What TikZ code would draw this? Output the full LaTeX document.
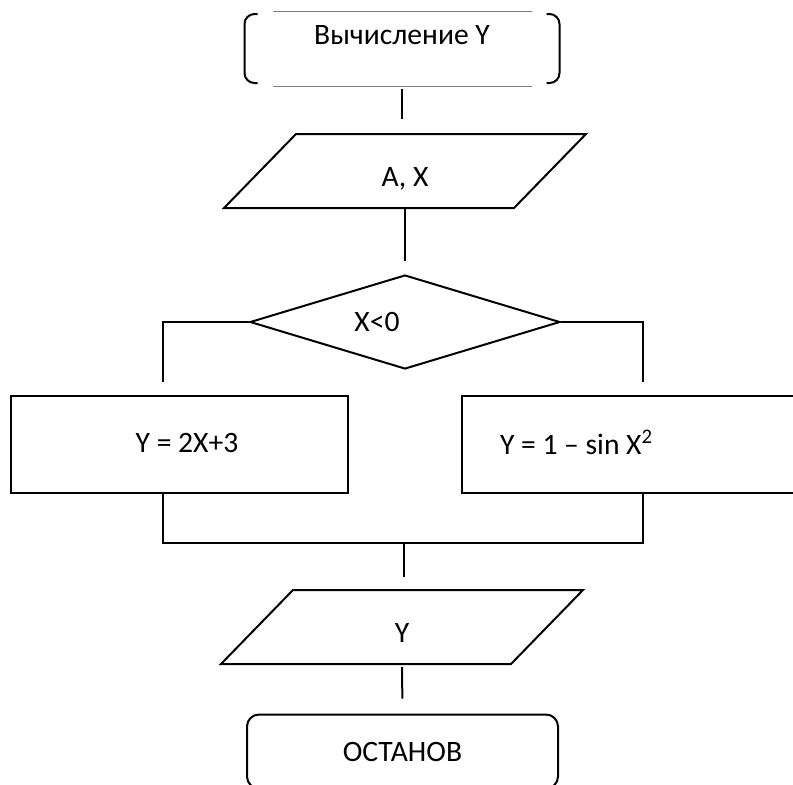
\documentclass[tikz,border=0pt]{standalone}
\usepackage{fontspec}
\setmainfont{Carlito}
\usetikzlibrary{shapes.geometric}

\begin{document}
\begin{tikzpicture}[x=0.5pt,y=-0.5pt,line width=1pt]
	\tikzstyle{every node}=[font=\fontsize{14.8}{18}\selectfont,inner sep=0pt];
	\tikzstyle{io}=[rectangle,minimum width=144pt,minimum height=36pt,text height=17.4pt,text depth=2pt];
	\tikzstyle{act}=[draw,rectangle,minimum height=48.5pt];
	\tikzstyle{decision}=[draw,diamond,shape aspect=3.3,minimum width=155pt,minimum height=47pt];
	\tikzstyle{link}=[shorten >=7pt];

	\useasboundingbox (0,0) rectangle (793,784);

	% terminators and blocks
	\node at (402, 48.5) (start) [minimum width=156.5pt,minimum height=36.5pt,label={[yshift=6.5pt]center:Вычисление Y}] {};
	\node at (405, 171) (inp) [io] {A, X};
	\node at (405, 322) (test) [decision,label={[xshift=-14pt]center:X<0}] {};
	\node at (179.5, 444.5) (neg) [act,minimum width=168.5pt,label={[xshift=3.75pt,yshift=1pt]center:Y = 2X+3}] {};
	\node at (643, 444.5) (pos) [act,minimum width=181pt,label={[anchor=west,xshift=19pt,yshift=1pt]west:Y = 1 – sin X\textsuperscript{2}}] {};
	\coordinate (merge) at (403.5, 543);
	\node at (402, 627) (out) [io] {Y};
	\node at (402.5, 751.5) (stop) [draw,rectangle,rounded corners=6pt,minimum width=155.5pt,minimum height=37pt] {ОСТАНОВ};

	% parallelograms for input and output
	\foreach \n in {inp,out}
		\draw ([xshift=-18pt]\n.south west) -- ([xshift=18pt]\n.north west) -- ([xshift=18pt]\n.north east) -- ([xshift=-18pt]\n.south east) -- cycle;

	% frame of the start block
	\draw[rounded corners=5pt] ([xshift=6.5pt,yshift=-1.5pt]start.north west) -- ([yshift=-1.5pt]start.north west) -- ([yshift=1.5pt]start.south west) -- ([xshift=6.5pt,yshift=1.5pt]start.south west);
	\draw[rounded corners=5pt] ([xshift=-6.5pt,yshift=-1.5pt]start.north east) -- ([yshift=-1.5pt]start.north east) -- ([yshift=1.5pt]start.south east) -- ([xshift=-6.5pt,yshift=1.5pt]start.south east);
	\draw[gray,line width=0.5pt] ([xshift=14pt]start.north west) -- ([xshift=-14pt]start.north east);
	\draw[gray,line width=0.5pt] ([xshift=14pt]start.south west) -- ([xshift=-14pt]start.south east);

	% connectors
	\draw[link,shorten <=1.5pt,shorten >=7.5pt] (start) -- (start |- inp.north);
	\draw[link,shorten >=6.5pt] (inp) -- (test);
	\draw[link,shorten >=6.5pt] (test) -| ([xshift=-8.25pt]neg.north);
	\draw[link,shorten >=6.5pt] (test) -| (pos);
	\draw ([xshift=-8.25pt]neg.south) |- (merge) -| (pos);
	\draw[link,shorten >=6.5pt] (merge) -- (merge |- out.north);
	\draw[link,shorten <=1.5pt,shorten >=7.5pt] (out) -- (stop);
\end{tikzpicture}
\end{document}
